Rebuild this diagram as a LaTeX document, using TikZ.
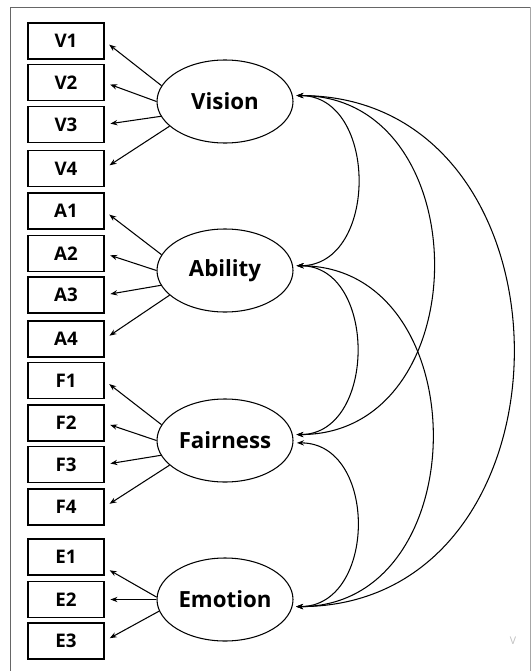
\documentclass[tikz,border=0pt]{standalone}
\usepackage{fontspec}
\setmainfont{Open Sans}
\usetikzlibrary{
    arrows.meta,
    shapes.geometric,
    positioning
}
\tikzset{
    item/.style={draw, line width=1pt, minimum width=2.28cm, minimum height=1.08cm, inner sep=0pt, font=\bfseries\fontsize{16}{19}\selectfont},
    factor/.style={draw, ellipse, line width=0.9pt, minimum width=4.08cm, minimum height=2.49cm, inner sep=0pt, font=\bfseries\fontsize{19}{23}\selectfont},
    load/.style={-{Stealth[length=6pt,width=4.5pt]}, line width=0.9pt, shorten >=5pt},
    cov/.style={{Stealth[length=6pt,width=4.5pt]}-{Stealth[length=6pt,width=4.5pt]}, line width=0.9pt, shorten >=3pt, shorten <=3pt}
}

\begin{document}
\begin{tikzpicture}[x=0.03cm, y=-0.03cm]
                        \useasboundingbox (0,0) rectangle (532,671);
                        \draw[black!60, line width=0.8pt] (10,671) -- (10,7) -- (530,7);
                        \draw[black!35, line width=0.8pt] (530,7) -- (530,671);
                        % indicators
                        \node[item] (V1) at (66,41) {V1};
                        \node[item] (V2) at (66,82.5) {V2};
                        \node[item] (V3) at (66,124.5) {V3};
                        \node[item] (V4) at (66,168.5) {V4};
                        \node[item] (A1) at (66,211) {A1};
                        \node[item] (A2) at (66,253.5) {A2};
                        \node[item] (A3) at (66,295) {A3};
                        \node[item] (A4) at (66,339) {A4};
                        \node[item] (F1) at (66,380.5) {F1};
                        \node[item] (F2) at (66,423) {F2};
                        \node[item] (F3) at (66,464.5) {F3};
                        \node[item] (F4) at (66,507) {F4};
                        \node[item] (E1) at (66,557) {E1};
                        \node[item] (E2) at (66,599.5) {E2};
                        \node[item] (E3) at (66,641) {E3};
                        % factors
                        \node[factor] (vis) at (225,101.5) {Vision};
                        \node[factor] (abl) at (225,270.5) {Ability};
                        \node[factor] (fai) at (225,440.5) {Fairness};
                        \node[factor] (emo) at (225,599.5) {Emotion};
                        \node[text=black!25, font=\fontsize{9}{10}\selectfont] (mark) at (513,641) {V};
                        \draw
                        (vis.166) edge[load] (V1.east)
                        (vis.180) edge[load] (V2.east)
                        (vis.193) edge[load] (V3.east)
                        (vis.204) edge[load] (V4.east)
                        (abl.166) edge[load] (A1.east)
                        (abl.180) edge[load] (A2.east)
                        (abl.193) edge[load] (A3.east)
                        (abl.204) edge[load] (A4.east)
                        (fai.166) edge[load] (F1.east)
                        (fai.180) edge[load] (F2.east)
                        (fai.193) edge[load] (F3.east)
                        (fai.204) edge[load] (F4.east)
                        (emo.178) edge[load] (E1.-15)
                        (emo.180) edge[load] (E2.east)
                        (emo.190) edge[load] (E3.east);
                        % covariances
                        \draw
                        (vis.5) edge[cov, out=0, in=0, looseness=1.29] (abl.4)
                        (vis.5) edge[cov, out=0, in=0, looseness=1.41] (fai.5)
                        (vis.5) edge[cov, out=0, in=0, looseness=1.47] (emo.-6)
                        (abl.4) edge[cov, out=0, in=0, looseness=1.28] (fai.5)
                        (abl.4) edge[cov, out=0, in=0, looseness=1.39] (emo.-6)
                        (fai.-2) edge[cov, out=0, in=0, looseness=1.32] (emo.-6);
                    \end{tikzpicture}
\end{document}
